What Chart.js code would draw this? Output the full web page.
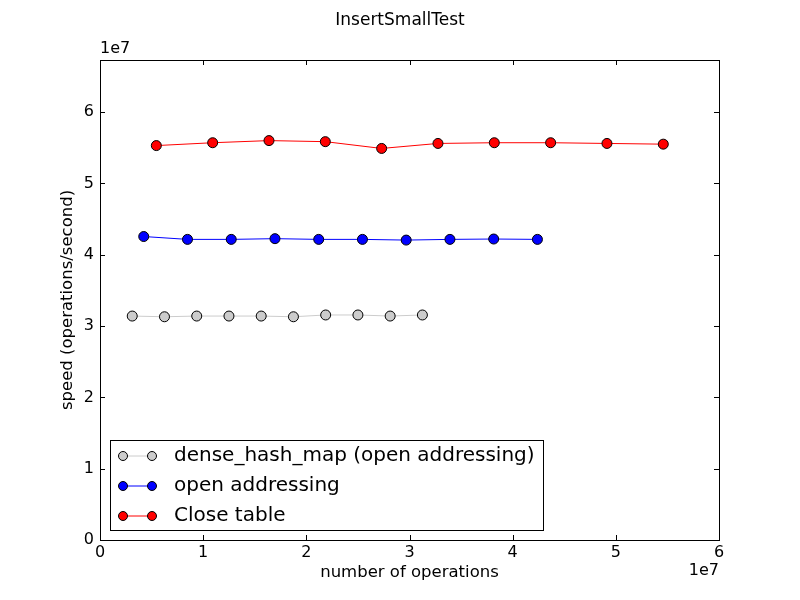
<!DOCTYPE html>
<html>
<head>
<meta charset="utf-8">
<script src="https://cdn.jsdelivr.net/npm/chart.js@4.4.0/dist/chart.umd.min.js"></script>
<style>
  html, body { margin: 0; padding: 0; background: #fff; }
</style>
</head>
<body>
<canvas id="chart" width="800" height="600"></canvas>
<script>
// series names and colours
const seriesNames = ['dense_hash_map (open addressing)', 'open addressing', 'Close table'];
const seriesColors = ['#cccccc', '#0000ff', '#ff0000'];

// number of operations (x) per series
const denseX = [3125000, 6250000, 9375000, 12500000, 15625000, 18750000, 21875000, 25000000, 28125000, 31250000];
const openX  = [4240000, 8480000, 12720000, 16960000, 21200000, 25440000, 29680000, 33920000, 38160000, 42400000];
const closeX = [5460000, 10920000, 16380000, 21840000, 27300000, 32760000, 38220000, 43680000, 49140000, 54600000];

// speed in operations/second (y) per series
const denseY = [31400000, 31300000, 31400000, 31400000, 31400000, 31300000, 31550000, 31550000, 31400000, 31550000];
const openY  = [42550000, 42150000, 42150000, 42250000, 42150000, 42150000, 42050000, 42150000, 42200000, 42150000];
const closeY = [55300000, 55700000, 56000000, 55850000, 54900000, 55600000, 55700000, 55700000, 55600000, 55500000];

// ticks and their labels
const xTickValues = [0, 10000000, 20000000, 30000000, 40000000, 50000000, 60000000];
const xTickLabels = ['0', '1', '2', '3', '4', '5', '6'];
const yTickValues = [0, 10000000, 20000000, 30000000, 40000000, 50000000, 60000000];
const yTickLabels = ['0', '1', '2', '3', '4', '5', '6'];
const offsetLabel = '1e7';

const FONT = "'DejaVu Sans', sans-serif";

function pts(xs, ys) {
    return xs.map((x, i) => ({ x: x, y: ys[i] }));
}

function makeSet(i, xs, ys) {
    return {
        label: seriesNames[i],
        data: pts(xs, ys),
        borderColor: seriesColors[i],
        backgroundColor: seriesColors[i],
        pointBackgroundColor: seriesColors[i],
        pointBorderColor: '#000',
        pointBorderWidth: 1,
        pointRadius: 5,
        borderWidth: 1,
        tension: 0
    };
}

// frame, inward ticks, offset labels and the legend box
const framePlugin = {
    id: 'frame',
    afterDraw(chart) {
        const ctx = chart.ctx;
        const a = chart.chartArea;
        const xs = chart.scales.x;
        const ys = chart.scales.y;
        ctx.save();
        ctx.strokeStyle = '#000';
        ctx.lineWidth = 1;
        ctx.strokeRect(a.left + 0.5, a.top + 0.5, a.right - a.left, a.bottom - a.top);

        ctx.beginPath();
        xs.ticks.forEach(t => {
            const px = Math.round(xs.getPixelForValue(t.value)) + 0.5;
            ctx.moveTo(px, a.bottom); ctx.lineTo(px, a.bottom - 5);
            ctx.moveTo(px, a.top); ctx.lineTo(px, a.top + 5);
        });
        ys.ticks.forEach(t => {
            const py = Math.round(ys.getPixelForValue(t.value)) + 0.5;
            ctx.moveTo(a.left, py); ctx.lineTo(a.left + 5, py);
            ctx.moveTo(a.right, py); ctx.lineTo(a.right - 5, py);
        });
        ctx.stroke();

        ctx.fillStyle = '#000';
        ctx.font = '16px ' + FONT;
        ctx.textBaseline = 'middle';
        ctx.textAlign = 'left';
        ctx.fillText(offsetLabel, a.left, a.top - 11);
        ctx.textAlign = 'right';
        ctx.fillText(offsetLabel, a.right, a.bottom + 31);

        // legend
        const bx = a.left + 10, bw = 433, bh = 90;
        const by = a.bottom - 10 - bh;
        ctx.fillStyle = '#fff';
        ctx.fillRect(bx, by, bw, bh);
        ctx.strokeRect(bx + 0.5, by + 0.5, bw, bh);
        ctx.font = '20px ' + FONT;
        ctx.textAlign = 'left';
        chart.data.datasets.forEach((ds, i) => {
            const ly = by + 16 + i * 30;
            ctx.strokeStyle = ds.borderColor;
            ctx.beginPath();
            ctx.moveTo(bx + 13, ly); ctx.lineTo(bx + 42, ly);
            ctx.stroke();
            [bx + 13, bx + 42].forEach(mx => {
                ctx.beginPath();
                ctx.arc(mx, ly, 4.5, 0, Math.PI * 2);
                ctx.fillStyle = ds.pointBackgroundColor;
                ctx.fill();
                ctx.strokeStyle = '#000';
                ctx.stroke();
            });
            ctx.fillStyle = '#000';
            ctx.fillText(ds.label, bx + 64, ly);
        });
        ctx.restore();
    }
};

new Chart(document.getElementById('chart'), {
    type: 'line',
    data: {
        datasets: [
            makeSet(0, denseX, denseY),
            makeSet(1, openX, openY),
            makeSet(2, closeX, closeY)
        ]
    },
    options: {
        responsive: false,
        animation: false,
        layout: { padding: 0 },
        scales: {
            x: {
                type: 'linear',
                min: 0,
                max: 60000000,
                afterFit: s => { s.height = 60; },
                afterBuildTicks: s => {
                    s.ticks = xTickValues.map(v => ({ value: v }));
                },
                grid: { display: false, drawTicks: false, tickLength: 0 },
                border: { display: true, color: '#000' },
                ticks: {
                    autoSkip: false,
                    maxRotation: 0,
                    padding: 3,
                    color: '#000',
                    font: { family: FONT, size: 16 },
                    callback: (v, i) => xTickLabels[i]
                },
                title: {
                    display: true,
                    text: 'number of operations',
                    color: '#000',
                    font: { family: FONT, size: 16.5 },
                    padding: { top: 0, bottom: 17 }
                }
            },
            y: {
                type: 'linear',
                min: 0,
                max: 67300000,
                afterFit: s => { s.width = 100; },
                afterBuildTicks: s => {
                    s.ticks = yTickValues.map(v => ({ value: v }));
                },
                grid: { display: false, drawTicks: false, tickLength: 0 },
                border: { display: true, color: '#000' },
                ticks: {
                    autoSkip: false,
                    padding: 6,
                    color: '#000',
                    font: { family: FONT, size: 16 },
                    callback: (v, i) => yTickLabels[i]
                },
                title: {
                    display: true,
                    text: 'speed (operations/second)',
                    color: '#000',
                    font: { family: FONT, size: 16.5 },
                    padding: { top: 58, bottom: 0 }
                }
            },
            // empty right-hand axis keeps the title centred on the whole figure
            yRight: {
                type: 'linear',
                position: 'right',
                afterFit: s => { s.width = 81; },
                grid: { display: false },
                border: { display: false },
                ticks: { display: false }
            }
        },
        plugins: {
            legend: { display: false },
            tooltip: { enabled: false },
            title: {
                display: true,
                text: 'InsertSmallTest',
                color: '#000',
                font: { family: FONT, size: 17, weight: 'normal' },
                padding: { top: 10, bottom: 29.6 }
            }
        }
    },
    plugins: [framePlugin]
});
</script>
</body>
</html>
